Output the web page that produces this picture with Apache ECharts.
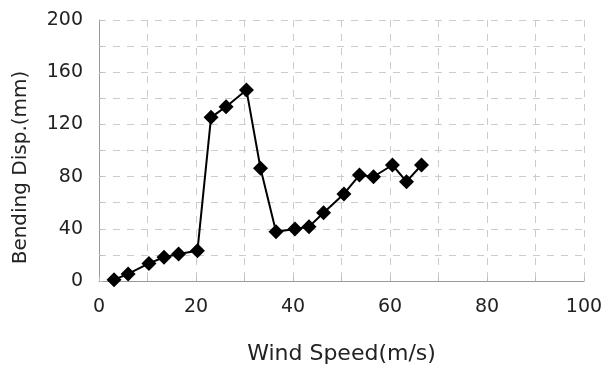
<!DOCTYPE html>
<html>
<head>
<meta charset="utf-8">
<script src="https://cdn.jsdelivr.net/npm/echarts@6/dist/echarts.min.js"></script>
<style>
  html, body { margin: 0; padding: 0; background: #fff; }
  #chart { width: 609px; height: 369px; }
</style>
</head>
<body>
<div id="chart"></div>
<script>
  // wind speed (m/s) and bending displacement (mm)
  var windSpeed = [3.1, 6.0, 10.3, 13.4, 16.4, 20.3, 23.1, 26.2, 30.4, 33.3,
                   36.5, 40.4, 43.3, 46.3, 50.5, 53.7, 56.6, 60.5, 63.4, 66.5];
  var bendingDisp = [1, 5.4, 13.5, 18.2, 20.7, 23.2, 125.4, 133.6, 146.4, 86.4,
                     37.8, 39.8, 41.6, 52.3, 66.7, 81.2, 79.9, 88.9, 76.1, 88.9];

  var points = [];
  for (var i = 0; i < windSpeed.length; i++) {
    points.push([windSpeed[i], bendingDisp[i]]);
  }

  var labelColor = '#222';
  var font = 'DejaVu Sans';
  var chart = echarts.init(document.getElementById('chart'));
  chart.setOption({
    animation: false,
    grid: { left: 99, right: 25, top: 20, bottom: 88, outerBoundsMode: 'none' },
    xAxis: {
      type: 'value',
      min: 0, max: 100, interval: 10,
      name: 'Wind Speed(m/s)',
      nameLocation: 'middle',
      nameGap: 62,
      nameTextStyle: { fontFamily: font, fontSize: 22, color: labelColor },
      axisLine: { show: true, lineStyle: { color: '#999', width: 1 } },
      axisTick: { show: true, inside: true, length: 4, lineStyle: { color: '#bbb' } },
      axisLabel: {
        fontFamily: font, fontSize: 19, color: labelColor, margin: 17,
        formatter: function (v) { return v % 20 === 0 ? v : ''; }
      },
      splitLine: { show: true, lineStyle: { color: '#ccc', type: [7, 7], width: 1 } }
    },
    yAxis: {
      type: 'value',
      min: 0, max: 200, interval: 20,
      name: 'Bending Disp.(mm)',
      nameLocation: 'middle',
      nameGap: 68,
      nameRotate: 90,
      nameTextStyle: { fontFamily: font, fontSize: 20, color: labelColor, padding: [0, 34, 0, 0] },
      axisLine: { show: true, lineStyle: { color: '#999', width: 1 } },
      axisTick: { show: true, inside: true, length: 4, lineStyle: { color: '#bbb' } },
      axisLabel: {
        fontFamily: font, fontSize: 19, color: labelColor, margin: 16,
        formatter: function (v) { return v % 40 === 0 ? v : ''; }
      },
      splitLine: { show: true, lineStyle: { color: '#ccc', type: [7, 7], width: 1 } }
    },
    series: [{
      type: 'line',
      data: points,
      symbol: 'diamond',
      symbolSize: 15,
      itemStyle: { color: '#000' },
      lineStyle: { color: '#000', width: 2 }
    }]
  });
</script>
</body>
</html>
